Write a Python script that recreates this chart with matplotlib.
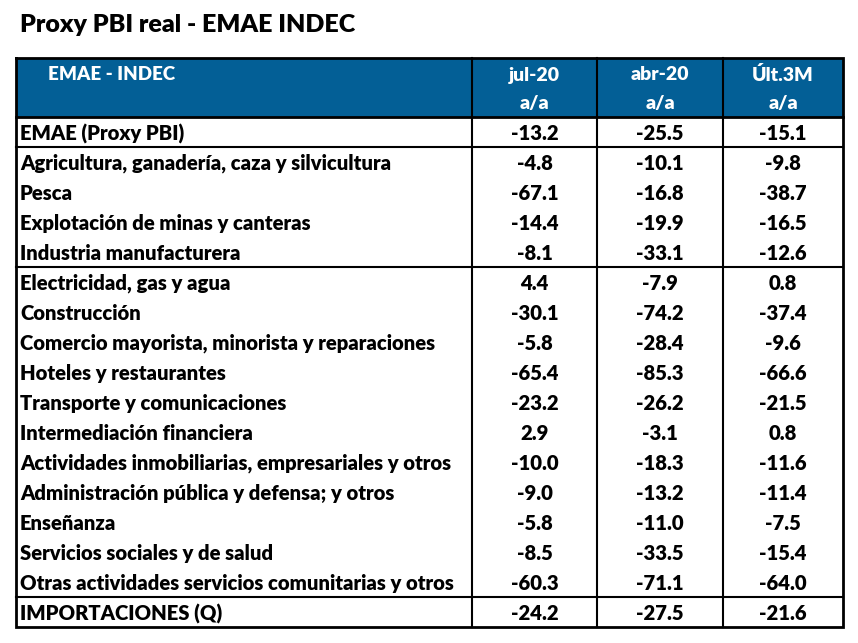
import matplotlib
matplotlib.use("Agg")
import matplotlib.pyplot as plt
from matplotlib.patches import Rectangle

title = "Proxy PBI real - EMAE INDEC"
header_label = "EMAE - INDEC"
col_headers = ["jul-20", "abr-20", "Últ.3M"]
col_sub = ["a/a", "a/a", "a/a"]

categories = [
    "EMAE (Proxy PBI)",
    "Agricultura, ganadería, caza y silvicultura",
    "Pesca",
    "Explotación de minas y canteras",
    "Industria manufacturera",
    "Electricidad, gas y agua",
    "Construcción",
    "Comercio mayorista, minorista y reparaciones",
    "Hoteles y restaurantes",
    "Transporte y comunicaciones",
    "Intermediación financiera",
    "Actividades inmobiliarias, empresariales y otros",
    "Administración pública y defensa; y otros",
    "Enseñanza",
    "Servicios sociales y de salud",
    "Otras actividades servicios comunitarias y otros",
    "IMPORTACIONES (Q)",
]
jul20 = [-13.2, -4.8, -67.1, -14.4, -8.1, 4.4, -30.1, -5.8, -65.4, -23.2, 2.9,
         -10.0, -9.0, -5.8, -8.5, -60.3, -24.2]
abr20 = [-25.5, -10.1, -16.8, -19.9, -33.1, -7.9, -74.2, -28.4, -85.3, -26.2, -3.1,
         -18.3, -13.2, -11.0, -33.5, -71.1, -27.5]
ult3m = [-15.1, -9.8, -38.7, -16.5, -12.6, 0.8, -37.4, -9.6, -66.6, -21.5, 0.8,
         -11.6, -11.4, -7.5, -15.4, -64.0, -21.6]
# rows after which a horizontal separator line is drawn (index of last row in group)
separators_after = [0, 4, 15]

W, H = 858, 643
fig = plt.figure(figsize=(W / 100, H / 100), dpi=100)
ax = fig.add_axes([0, 0, 1, 1])
ax.set_xlim(0, W)
ax.set_ylim(H, 0)
ax.axis("off")

FONT = "Lato"
WEIGHT = "heavy"
BLUE = "#035F96"
left, right = 16, 843
top, head_bot = 58, 117
row_h = 30
col_x = [472, 597, 723]
n = len(categories)
bottom = head_bot + n * row_h
FS = 14.6

# header background
ax.add_patch(Rectangle((left, top), right - left, head_bot - top, facecolor=BLUE,
                       edgecolor="none", zorder=1))

ax.text(20, 25, title, fontsize=18, fontweight=WEIGHT, family=FONT,
        va="center", ha="left", color="black")
ax.text(48, 75, header_label, fontsize=13.5, fontweight=WEIGHT, family=FONT,
        va="center", ha="left", color="white")

col_centers = [(col_x[0] + col_x[1]) / 2, (col_x[1] + col_x[2]) / 2, (col_x[2] + right) / 2]
for cx, h1, h2 in zip(col_centers, col_headers, col_sub):
    ax.text(cx, 75, h1, fontsize=14, fontweight=WEIGHT, family=FONT,
            va="center", ha="center", color="white")
    ax.text(cx, 104, h2, fontsize=14, fontweight=WEIGHT, family=FONT,
            va="center", ha="center", color="white")

for i, (cat, a, b, c) in enumerate(zip(categories, jul20, abr20, ult3m)):
    yc = head_bot + i * row_h + row_h / 2 + 1.5
    ax.text(20, yc, cat, fontsize=FS, fontweight=WEIGHT, family=FONT,
            va="center", ha="left", color="black")
    for cx, v in zip(col_centers, (a, b, c)):
        ax.text(cx, yc, f"{v:.1f}", fontsize=FS, fontweight=WEIGHT, family=FONT,
                va="center", ha="center", color="black")

lw = 2.0
# outer border
ax.plot([left, right, right, left, left], [top, top, bottom, bottom, top],
        color="black", lw=lw, zorder=5, solid_joinstyle="miter")
# header bottom
ax.plot([left, right], [head_bot, head_bot], color="black", lw=lw, zorder=5)
# column dividers
for x in col_x:
    ax.plot([x, x], [top, bottom], color="black", lw=1.5, zorder=5)
# group separators
for s in separators_after:
    y = head_bot + (s + 1) * row_h
    ax.plot([left, right], [y, y], color="black", lw=1.5, zorder=5)

fig.savefig("out.png", dpi=100)
